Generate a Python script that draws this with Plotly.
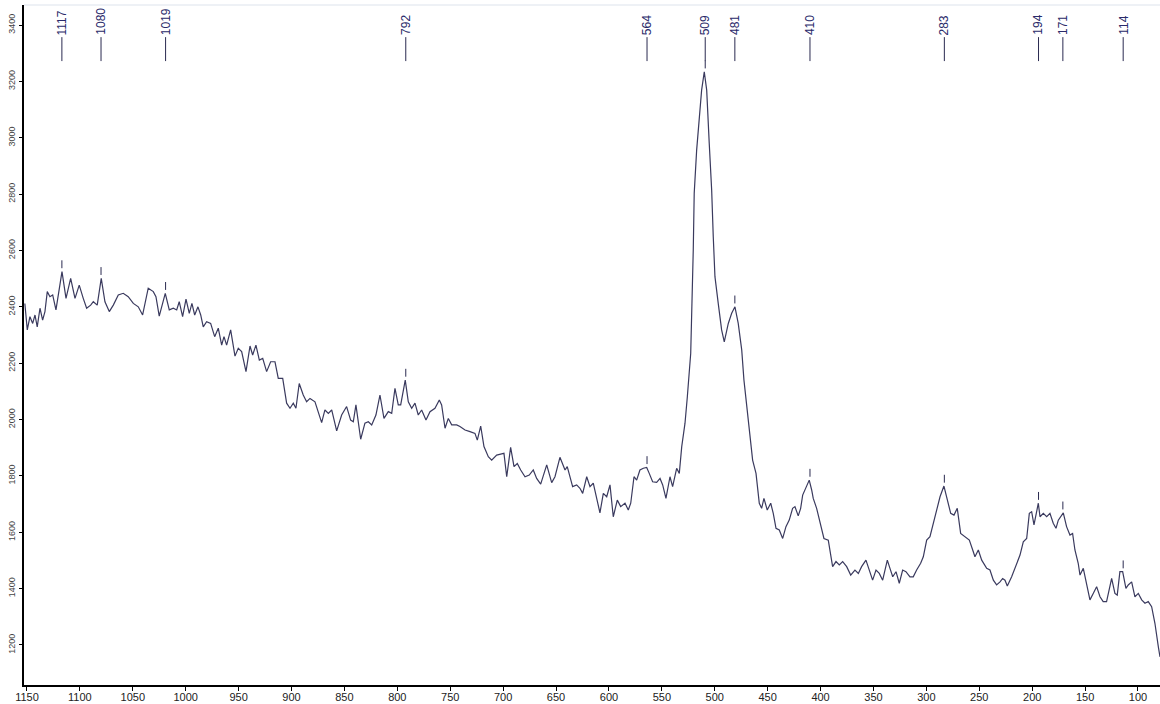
import numpy as np
import plotly.graph_objects as go

# Raman shift (cm-1)
wavenumber = [
    1152.0, 1149.7, 1147.2, 1144.6, 1142.4, 1140.3, 1137.7, 1135.2, 1133.0, 1130.8,
    1128.3, 1125.7, 1122.6, 1119.5, 1116.9, 1113.1, 1108.7, 1104.6, 1100.6, 1096.8,
    1093.6, 1089.8, 1087.3, 1083.6, 1079.8, 1076.3, 1072.2, 1068.4, 1063.7, 1059.0,
    1054.3, 1049.5, 1044.8, 1040.7, 1035.4, 1030.6, 1028.1, 1025.0, 1021.8, 1019.3,
    1015.5, 1011.7, 1008.5, 1006.1, 1002.9, 999.7, 996.6, 994.1, 991.5, 988.4,
    985.8, 983.4, 980.2, 976.4, 972.6, 969.2, 966.0, 963.8, 961.3, 957.5,
    953.4, 950.3, 947.1, 943.0, 939.2, 936.7, 933.6, 930.4, 927.2, 923.5,
    919.7, 915.6, 912.5, 908.3, 904.6, 901.4, 898.3, 895.8, 892.7, 888.9,
    885.7, 882.5, 877.8, 874.7, 871.5, 868.4, 865.2, 862.0, 857.3, 852.6,
    847.9, 844.1, 841.6, 839.1, 834.6, 830.6, 827.4, 824.2, 820.2, 816.4,
    812.6, 808.5, 805.3, 802.2, 799.1, 796.8, 794.4, 792.5, 789.6, 786.4,
    783.3, 780.2, 777.0, 772.9, 769.1, 764.4, 760.3, 758.1, 754.9, 751.8,
    748.6, 743.9, 740.8, 736.0, 731.3, 726.6, 724.4, 721.2, 718.1, 714.0,
    710.8, 706.1, 701.4, 699.2, 696.6, 692.9, 689.7, 686.6, 683.4, 679.3,
    675.3, 671.5, 668.3, 664.5, 658.8, 654.1, 651.0, 646.3, 641.5, 639.4,
    634.3, 630.5, 627.4, 624.8, 621.0, 617.9, 614.8, 611.6, 608.5, 605.3,
    602.1, 599.0, 595.9, 592.1, 588.9, 584.8, 581.7, 579.4, 576.3, 573.8,
    570.7, 567.5, 564.3, 561.9, 558.7, 554.9, 551.7, 549.2, 546.1, 542.3,
    539.8, 536.0, 533.5, 531.2, 528.1, 525.9, 522.7, 520.3, 519.4, 517.1,
    514.6, 512.4, 509.9, 507.6, 505.2, 502.9, 501.4, 499.8, 496.7, 493.5,
    491.0, 487.2, 484.0, 480.9, 477.8, 474.5, 472.4, 466.7, 464.2, 461.0,
    457.9, 455.7, 453.5, 450.4, 447.1, 444.7, 442.1, 439.0, 435.8, 432.7,
    429.6, 426.4, 424.2, 421.1, 418.8, 416.9, 413.8, 410.7, 408.4, 406.9,
    403.7, 400.5, 396.8, 392.7, 388.6, 385.4, 382.3, 379.1, 375.3, 371.5,
    367.5, 364.3, 361.2, 357.1, 354.0, 350.8, 347.6, 344.5, 341.3, 336.9,
    334.4, 331.8, 328.7, 325.6, 322.4, 319.3, 315.5, 312.4, 309.2, 305.4,
    302.9, 299.7, 296.6, 293.5, 290.3, 287.1, 283.4, 280.2, 277.0, 273.9,
    270.8, 267.6, 263.5, 259.4, 256.2, 254.1, 250.9, 247.7, 243.0, 239.9,
    236.7, 233.6, 230.4, 227.9, 225.7, 223.5, 219.4, 215.3, 211.5, 208.4,
    205.2, 202.7, 200.5, 198.3, 196.4, 194.2, 192.6, 189.5, 186.3, 183.2,
    180.1, 177.5, 175.3, 172.1, 170.6, 167.5, 164.3, 161.8, 159.6, 156.5,
    154.8, 151.7, 148.5, 145.4, 142.3, 139.1, 135.9, 132.9, 129.7, 124.9,
    121.8, 119.6, 117.1, 114.5, 111.4, 109.2, 106.0, 102.9, 99.7, 96.5,
    93.4, 90.3, 87.1, 84.0, 80.8, 79.2,
]

# Intensity (counts)
intensity = [
    2412, 2318, 2365, 2341, 2371, 2329, 2395, 2353, 2383, 2454,
    2436, 2442, 2389, 2471, 2525, 2430, 2501, 2430, 2477, 2430,
    2395, 2406, 2418, 2406, 2501, 2418, 2383, 2406, 2442, 2448,
    2436, 2412, 2400, 2371, 2466, 2454, 2436, 2367, 2418, 2448,
    2389, 2395, 2389, 2418, 2365, 2427, 2377, 2412, 2371, 2400,
    2371, 2329, 2347, 2341, 2294, 2324, 2264, 2294, 2264, 2318,
    2225, 2253, 2241, 2170, 2261, 2229, 2264, 2211, 2217, 2170,
    2205, 2205, 2146, 2146, 2058, 2040, 2058, 2040, 2128, 2087,
    2063, 2075, 2063, 2022, 1989, 2034, 2022, 2034, 1960, 2016,
    2046, 1998, 1992, 2052, 1930, 1987, 1992, 1981, 2016, 2087,
    2004, 2028, 2022, 2111, 2052, 2052, 2105, 2140, 2063, 2040,
    2058, 2016, 2034, 1998, 2028, 2040, 2069, 2052, 1969, 2004,
    1981, 1981, 1975, 1963, 1957, 1951, 1927, 1977, 1904, 1868,
    1856, 1874, 1878, 1880, 1797, 1901, 1833, 1844, 1821, 1797,
    1803, 1821, 1791, 1771, 1839, 1776, 1797, 1866, 1821, 1833,
    1762, 1768, 1756, 1738, 1797, 1762, 1774, 1714, 1669, 1738,
    1726, 1768, 1655, 1714, 1691, 1703, 1679, 1703, 1797, 1785,
    1821, 1827, 1830, 1809, 1779, 1777, 1791, 1768, 1720, 1797,
    1762, 1827, 1809, 1904, 1987, 2081, 2235, 2602, 2803, 2956,
    3075, 3169, 3234, 3169, 2980, 2814, 2649, 2507, 2412, 2318,
    2276, 2341, 2377, 2400, 2341, 2247, 2140, 1939, 1856, 1809,
    1703, 1685, 1720, 1679, 1703, 1667, 1614, 1608, 1578, 1620,
    1643, 1685, 1691, 1658, 1685, 1732, 1762, 1785, 1750, 1720,
    1685, 1632, 1578, 1572, 1478, 1496, 1484, 1496, 1478, 1448,
    1466, 1454, 1478, 1501, 1466, 1430, 1466, 1454, 1430, 1501,
    1472, 1442, 1460, 1419, 1466, 1460, 1442, 1442, 1466, 1490,
    1513, 1572, 1584, 1632, 1685, 1726, 1764, 1720, 1667, 1661,
    1685, 1596, 1584, 1572, 1537, 1513, 1537, 1501, 1472, 1466,
    1430, 1413, 1424, 1436, 1430, 1409, 1442, 1484, 1519, 1566,
    1578, 1667, 1673, 1626, 1667, 1703, 1655, 1667, 1655, 1667,
    1632, 1614, 1643, 1661, 1669, 1620, 1590, 1596, 1537, 1490,
    1448, 1472, 1419, 1360, 1383, 1407, 1371, 1354, 1354, 1436,
    1383, 1377, 1460, 1460, 1401, 1413, 1424, 1371, 1383, 1360,
    1348, 1354, 1336, 1277, 1194, 1158,
]

peak_labels = [1117, 1080, 1019, 792, 564, 509, 481, 410, 283, 194, 171, 114]
x_ticks = [1150, 1100, 1050, 1000, 950, 900, 850, 800, 750, 700, 650, 600,
           550, 500, 450, 400, 350, 300, 250, 200, 150, 100]
y_ticks = [1200, 1400, 1600, 1800, 2000, 2200, 2400, 2600, 2800, 3000, 3200, 3400]

FONT = "Arial, Liberation Sans, sans-serif"
LABEL_LINE_BOTTOM = 3272
LABEL_LINE_TOP = 3357

fig = go.Figure()
fig.add_trace(go.Scatter(
    x=wavenumber, y=intensity, mode="lines",
    line=dict(color="#3a3a5e", width=1.2), hoverinfo="skip",
))

# short peak markers just above each labelled peak
wn = np.array(wavenumber)
it = np.array(intensity)
mx, my = [], []
for p in peak_labels:
    sel = np.abs(wn - p) <= 3
    top = it[sel].max() if sel.any() else np.interp(p, wn[::-1], it[::-1])
    mx += [p, p, None]
    my += [top + 12, top + 40, None]
fig.add_trace(go.Scatter(x=mx, y=my, mode="lines",
                         line=dict(color="#2a2a50", width=1), hoverinfo="skip"))

shapes = []
annotations = []
for p in peak_labels:
    shapes.append(dict(type="line", xref="x", yref="y", x0=p, x1=p,
                       y0=LABEL_LINE_BOTTOM, y1=LABEL_LINE_TOP,
                       line=dict(color="#2a2a50", width=1)))
    annotations.append(dict(x=p, y=LABEL_LINE_TOP, xref="x", yref="y",
                            text=str(p), showarrow=False, textangle=-90,
                            xanchor="center", yanchor="bottom",
                            font=dict(family=FONT, size=12, color="#2a2a6a")))
shapes.append(dict(type="line", xref="paper", yref="paper", x0=0, x1=1, y0=1, y1=1,
                   line=dict(color="#dde3ec", width=1)))

fig.update_layout(
    width=1160, height=704,
    margin=dict(l=24, r=0, t=5, b=19),
    paper_bgcolor="white", plot_bgcolor="white",
    showlegend=False,
    shapes=shapes, annotations=annotations,
    xaxis=dict(range=[1152.8, 79.2], tickvals=x_ticks, ticks="outside", ticklen=4,
               tickcolor="#000", showline=True, linecolor="#000", linewidth=2,
               showgrid=False, zeroline=False, automargin=False,
               ticklabelstandoff=-3,
               tickfont=dict(family=FONT, size=11, color="#222")),
    yaxis=dict(range=[1058, 3471], tickvals=y_ticks, tickangle=-90, ticks="outside",
               ticklen=3, tickcolor="#000", showline=True, linecolor="#000", linewidth=2,
               showgrid=False, zeroline=False, automargin=False,
               tickfont=dict(family=FONT, size=9, color="#444")),
)

fig.write_html("out.html",
               config={"displayModeBar": False},
               post_script="document.body.style.margin='0';document.body.style.overflow='hidden';")
